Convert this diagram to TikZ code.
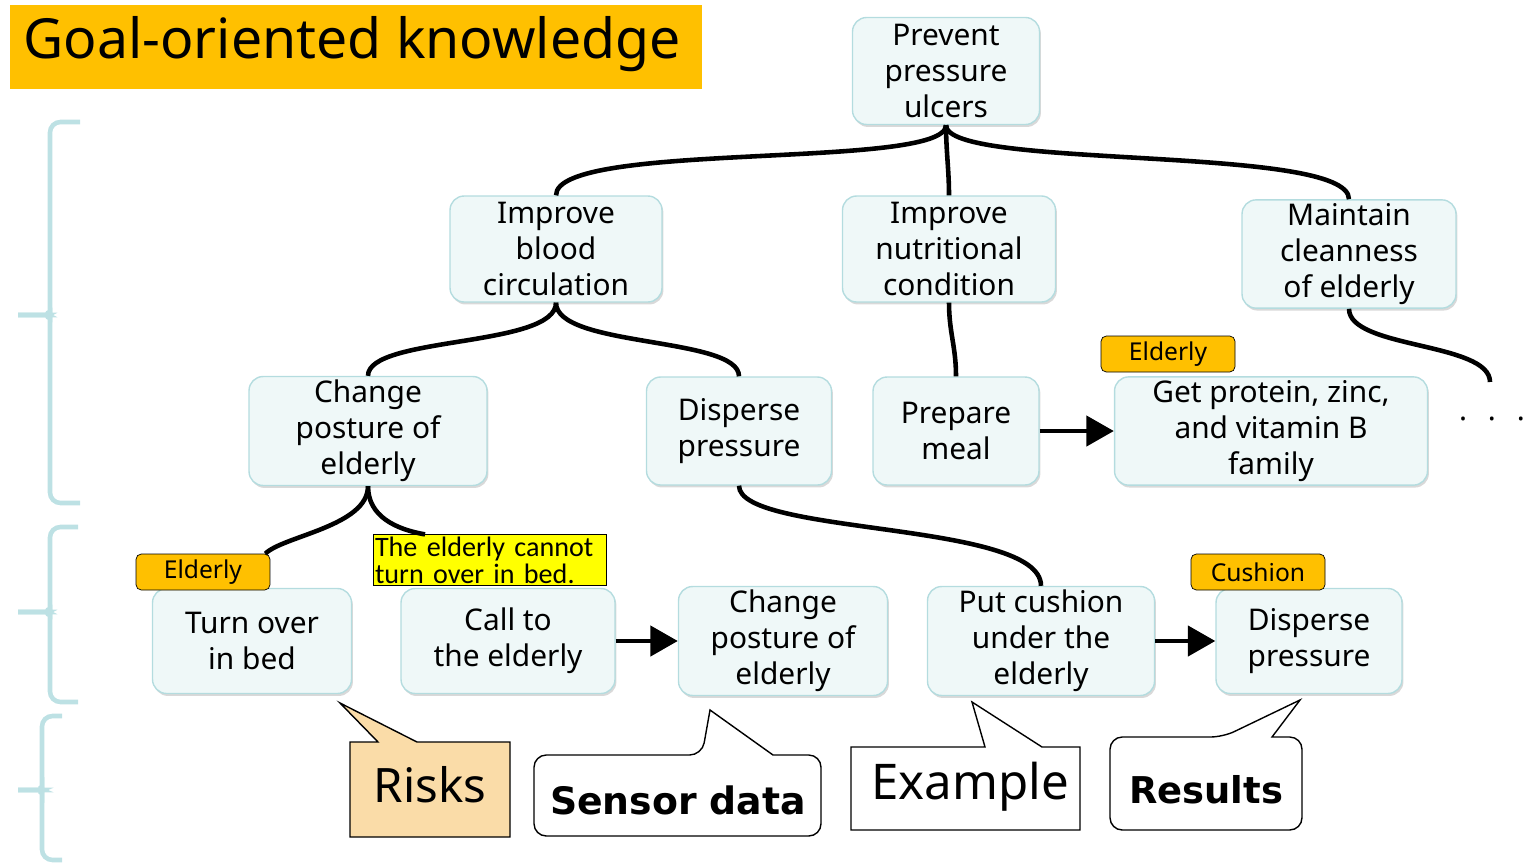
\documentclass[tikz,border=0pt]{standalone}
\usepackage{fontspec}
\setmainfont{Noto Sans}
\newfontfamily\notefont{Carlito}
\newfontfamily\heavyfont{DejaVu Sans}
\usetikzlibrary{arrows.meta,shadows}
\definecolor{boxfill}{HTML}{EFF8F8}
\definecolor{boxline}{HTML}{B4DCDF}
\definecolor{tagorange}{HTML}{FFC000}
\definecolor{bracecol}{HTML}{BDE1E4}
\definecolor{riskfill}{HTML}{FADCA8}
\definecolor{noteyellow}{HTML}{FFFF00}

\begin{document}
\begin{tikzpicture}[x=0.02cm, y=-0.02cm]
    \tikzstyle{goal box} = [rectangle,rounded corners=8pt,draw=boxline,thick,fill=boxfill,align=center,inner sep=2pt,font=\fontsize{17}{20.5}\selectfont,drop shadow={opacity=0.3,shadow xshift=0.8pt,shadow yshift=-1.4pt}]
    \tikzstyle{actor tag} = [rectangle,rounded corners=3pt,draw=black,fill=tagorange,inner sep=0pt,minimum width=2.68cm,minimum height=0.72cm,font=\fontsize{14}{16}\selectfont]
    \tikzstyle{tree edge} = [draw=black,line width=2.6pt]
    \tikzstyle{flow arrow} = [tree edge,-{Triangle[length=0.55cm,width=0.6cm]}]
    \tikzstyle{brace line} = [draw=bracecol,line width=2.6pt,rounded corners=6pt]
    \tikzstyle{callout line} = [draw=black,line width=0.8pt]
\useasboundingbox (0,0) rectangle (1530,865);
% title
\node[fill=tagorange,minimum width=13.84cm,minimum height=1.68cm] (titlebox) at (356,47) {};
\node[font=\fontsize{31.5}{36}\selectfont] (title) at (352,44) {Goal-oriented knowledge};
% goals
\node[goal box,minimum width=3.74cm,minimum height=2.14cm] (prevent) at (946,71) {Prevent\\pressure\\ulcers};
\node[goal box,minimum width=4.24cm,minimum height=2.12cm] (blood) at (556,249) {Improve\\blood\\circulation};
\node[goal box,minimum width=4.26cm,minimum height=2.12cm] (nutrition) at (949,249) {Improve\\nutritional\\condition};
\node[goal box,minimum width=4.28cm,minimum height=2.12cm] (clean) at (1349,254) {Maintain\\cleanness\\of elderly};
\node[goal box,minimum width=4.76cm,minimum height=2.16cm] (posture) at (368,431) {Change\\posture of\\elderly};
\node[goal box,minimum width=3.70cm,minimum height=2.16cm] (disperse) at (739,431) {Disperse\\pressure};
\node[goal box,minimum width=3.32cm,minimum height=2.16cm] (meal) at (956,431) {Prepare\\meal};
\node[goal box,minimum width=6.26cm,minimum height=2.16cm] (protein) at (1271,431) {Get protein, zinc,\\and vitamin B\\family};
% actions
\node[goal box,minimum width=3.98cm,minimum height=2.10cm] (turn) at (252,641) {Turn over\\in bed};
\node[goal box,minimum width=4.28cm,minimum height=2.10cm] (call) at (508,641) {Call to\\the elderly};
\node[goal box,minimum width=4.18cm,minimum height=2.10cm] (posture2) at (783,641) {Change\\posture of\\elderly};
\node[goal box,minimum width=4.54cm,minimum height=2.10cm] (cushion) at (1041,641) {Put cushion\\under the\\elderly};
\node[goal box,minimum width=3.72cm,minimum height=2.10cm] (disperse2) at (1309,641) {Disperse\\pressure};
% tags
\node[actor tag] (elderlyA) at (1168,354) {Elderly};
\node[actor tag] (elderlyB) at (203,572) {Elderly};
\node[actor tag] (cushiontag) at (1258,572) {Cushion};
\node[rectangle,draw=black,fill=noteyellow,inner sep=1pt,text width=4.6cm,align=left,font=\notefont\fontsize{16}{15.5}\selectfont] (note) at (490,560) {The elderly cannot\\turn over in bed.};
\node[font=\fontsize{17}{20}\selectfont] (dots) at (1492,423) {·\hspace{0.42cm}·\hspace{0.42cm}·};
\coordinate (more) at (1490,382);
% tree
\draw[tree edge] (prevent.south) to[out=-90,in=90,out distance=0.9cm,in distance=1.1cm] (blood.north);
\draw[tree edge] (prevent.south) to[out=-90,in=90,out distance=0.5cm,in distance=0.5cm] (nutrition.north);
\draw[tree edge] (prevent.south) to[out=-90,in=90,out distance=0.9cm,in distance=1.1cm] (clean.north);
\draw[tree edge] (blood.south) to[out=-90,in=90,out distance=0.9cm,in distance=0.8cm] (posture.north);
\draw[tree edge] (blood.south) to[out=-90,in=90,out distance=0.9cm,in distance=0.8cm] (disperse.north);
\draw[tree edge] (nutrition.south) to[out=-90,in=90,out distance=0.6cm,in distance=0.6cm] (meal.north);
\draw[tree edge] (clean.south) to[out=-90,in=90,out distance=0.8cm,in distance=0.8cm] (more);
\draw[tree edge] (posture.south) to[out=-90,in=45,out distance=0.8cm,in distance=0.5cm] ([xshift=-0.1cm]elderlyB.north east);
\draw[tree edge] (posture.south) to[out=-90,in=170,out distance=0.6cm,in distance=0.6cm] ([xshift=-1.3cm]note.north);
\draw[tree edge] (disperse.south) to[out=-90,in=90,out distance=1cm,in distance=1.3cm] (cushion.north);
% steps
\draw[flow arrow] (meal.east) -- (protein.west);
\draw[flow arrow] (call.east) -- (posture2.west);
\draw[flow arrow] (cushion.east) -- (disperse2.west);
% braces
\draw[brace line] (80,122) -| (50,303) to[out=-90,in=0] (38,315) -- (18,315);
\draw[brace line] (18,315) -- (38,315) to[out=0,in=90] (50,327) |- (80,503);
\draw[brace line] (78,527) -| (50,600) to[out=-90,in=0] (38,612) -- (18,612);
\draw[brace line] (18,612) -- (38,612) to[out=0,in=90] (50,624) |- (78,702);
\draw[brace line] (62,716) -| (42,778) to[out=-90,in=0] (32,790) -- (18,790);
\draw[brace line] (18,790) -- (32,790) to[out=0,in=90] (42,802) |- (62,860);
% callouts
\draw[callout line,fill=riskfill] (350,742) -- (378,742) -- (340,703) -- (417,742) -- (510,742) -- (510,837) -- (350,837) -- cycle;
\node[font=\fontsize{27}{30}\selectfont] (risks) at (430,785) {Risks};
\draw[callout line,fill=white,rounded corners=7pt] (534,790) |- (702,755) [sharp corners] -- (710,710) -- (773,755) [rounded corners=7pt] -| (821,836) -| (534,790) -- cycle;
\node[font=\heavyfont\bfseries\fontsize{21.5}{26}\selectfont] (sensor) at (678,800) {Sensor data};
\draw[callout line,fill=white] (851,747) -- (985,747) -- (972,702) -- (1042,747) -- (1080,747) -- (1080,830) -- (851,830) -- cycle;
\node[font=\fontsize{28}{30}\selectfont] (example) at (970,787) {Example};
\draw[callout line,fill=white,rounded corners=7pt] (1110,780) |- (1223,737) [sharp corners] -- (1300,700) -- (1272,737) [rounded corners=7pt] -| (1302,830) -| (1110,780) -- cycle;
\node[font=\heavyfont\bfseries\fontsize{21}{26}\selectfont] (results) at (1206,790) {Results};
\end{tikzpicture}
\end{document}
